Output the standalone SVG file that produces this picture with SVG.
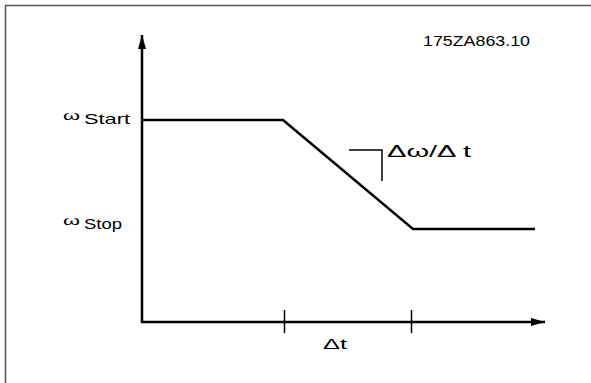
<svg xmlns="http://www.w3.org/2000/svg" width="591" height="383" viewBox="0 0 591 383">
<style>
.t{font-family:"Liberation Sans",Arial,sans-serif;fill:#000}
.ax{stroke:#000;stroke-width:2.5;fill:none}
.thin{stroke:#000;stroke-width:1.5;fill:none}
</style>
<defs>
<marker id="ah" markerWidth="14" markerHeight="8" refX="14" refY="4" orient="auto" markerUnits="userSpaceOnUse">
<path d="M0,0 L14,4 L0,8 Z" fill="#000"/>
</marker>
</defs>
<rect x="0" y="0" width="591" height="383" fill="#fff"/>
<path d="M5.5,383 V5.5 H591" stroke="#555" stroke-width="1.5" fill="none"/>
<g id="connectors">
<line class="ax" x1="142" y1="323" x2="142" y2="35" marker-end="url(#ah)"/>
<line class="ax" x1="141" y1="322" x2="545" y2="322" marker-end="url(#ah)"/>
<polyline class="ax" points="142,120 283,120 413,229 535,229"/>
<line class="thin" x1="284.5" y1="310" x2="284.5" y2="333"/>
<line class="thin" x1="411.5" y1="310" x2="411.5" y2="333"/>
<polyline class="thin" points="349,150 382,150 382,181"/>
</g>
<g id="label-code"><text class="t" x="423" y="46" font-size="15" textLength="107" lengthAdjust="spacingAndGlyphs">175ZA863.10</text></g>
<g id="label-wstart"><text class="t" x="63" y="119.5" font-size="13" textLength="17" lengthAdjust="spacingAndGlyphs">ω</text><text class="t" x="84" y="124" font-size="15" textLength="46" lengthAdjust="spacingAndGlyphs">Start</text></g>
<g id="label-wstop"><text class="t" x="63" y="224.5" font-size="13" textLength="17" lengthAdjust="spacingAndGlyphs">ω</text><text class="t" x="84" y="229" font-size="15" textLength="38" lengthAdjust="spacingAndGlyphs">Stop</text></g>
<g id="label-slope"><text class="t" x="387" y="157" font-size="17" textLength="84" lengthAdjust="spacingAndGlyphs">Δω/Δ t</text></g>
<g id="label-dt"><text class="t" x="323" y="349" font-size="15" textLength="24" lengthAdjust="spacingAndGlyphs">Δt</text></g>
</svg>
